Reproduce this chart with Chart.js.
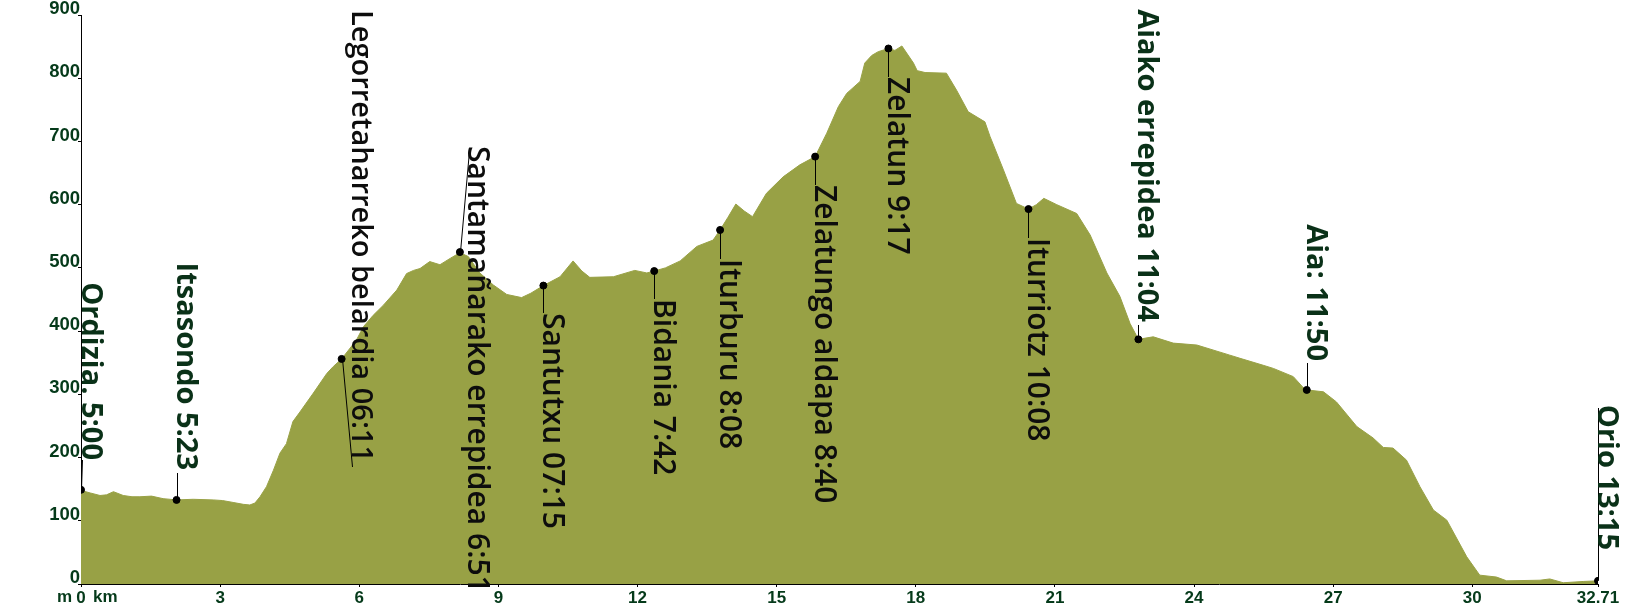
<!DOCTYPE html>
<html>
<head>
<meta charset="utf-8">
<script src="https://cdn.jsdelivr.net/npm/chart.js@4.4.1/dist/chart.umd.min.js"></script>
<style>
  html, body { margin: 0; padding: 0; background: #ffffff; }
  #wrap { width: 1638px; height: 614px; }
</style>
</head>
<body>
<div id="wrap"><canvas id="c" width="1638" height="614"></canvas></div>
<script>
// ---------- DATA ----------
const profileKm = [0.00,0.20,0.41,0.55,0.70,0.91,1.10,1.27,1.52,1.77,2.06,2.42,2.85,3.05,3.28,3.50,3.64,3.75,3.86,4.00,4.15,4.29,4.43,4.57,4.72,5.01,5.30,5.44,5.62,5.94,6.09,6.30,6.52,6.81,7.02,7.17,7.31,7.52,7.74,7.96,8.17,8.35,8.60,8.89,9.18,9.50,9.70,9.97,10.33,10.61,10.80,10.97,11.48,11.94,12.20,12.36,12.60,12.92,13.28,13.63,13.78,13.95,14.12,14.30,14.48,14.78,15.14,15.50,15.83,16.08,16.33,16.51,16.80,16.90,17.05,17.19,17.41,17.55,17.70,17.95,18.03,18.20,18.66,18.88,19.13,19.49,19.60,19.89,20.17,20.43,20.60,20.76,21.04,21.47,21.76,22.12,22.40,22.62,22.80,23.12,23.55,24.06,24.77,24.99,25.49,25.71,26.14,26.35,26.43,26.79,27.07,27.51,27.86,28.08,28.29,28.58,28.87,29.16,29.45,29.88,30.16,30.52,30.74,31.46,31.67,31.96,32.39,32.71];
const profileElev = [148,144,140,141,146,140,138,138,139,135,133,134,133,132,129,126,125,128,138,154,180,207,222,257,272,302,333,344,356,386,407,425,441,465,491,496,499,510,505,515,524,518,492,473,458,453,460,472,486,511,495,485,486,496,492,495,500,511,534,544,560,580,601,590,581,618,644,663,676,713,755,776,795,824,836,842,847,844,851,824,812,809,808,781,747,731,708,655,602,593,600,610,600,586,552,492,455,412,387,391,381,378,362,357,346,341,328,311,307,304,288,249,231,216,215,196,154,117,101,43,14,11,5,6,8,2,4,5];

const wpNames = ["Ordizia. 5:00","Itsasondo 5:23","Legorretaharreko belardia 06:11","Santamañarako errepidea 6:51","Santutxu 07:15","Bidania 7:42","Iturburu 8:08","Zelatungo aldapa 8:40","Zelatun 9:17","Iturriotz 10:08","Aiako errepidea 11:04","Aia: 11:50","Orio 13:15"];
const wpKm   = [0.00, 2.06, 5.62, 8.17, 9.97, 12.36, 13.78, 15.83, 17.41, 20.43, 22.80, 26.43, 32.71];
const wpElev = [149, 133, 356, 525, 472, 495, 560, 676, 847, 593, 387, 307, 5];

const xTickValues = [0,3,6,9,12,15,18,21,24,27,30,32.71];
const yTickValues = [0,100,200,300,400,500,600,700,800,900];
const xUnit = "km";
const yUnit = "m";

// ---------- LAYOUT / STYLE (pixels) ----------
// side: 'below' -> text starts at textY, 'above' -> text ends at textY
const labelLayout = [
  {side:'above', textY:460, dx:1,  lineX:1,  lineY:460, emph:true,  size:29},
  {side:'above', textY:470, dx:0,  lineX:0,  lineY:473, emph:true,  size:29},
  {side:'above', textY:462, dx:10, lineX:10, lineY:467, emph:false, size:29},
  {side:'below', textY:146, dx:8,  lineX:9,  lineY:151, emph:false, size:30},
  {side:'below', textY:313, dx:0,  lineX:0,  lineY:313, emph:false, size:30},
  {side:'below', textY:299, dx:0,  lineX:0,  lineY:299, emph:false, size:30},
  {side:'below', textY:259, dx:0,  lineX:0,  lineY:259, emph:false, size:30},
  {side:'below', textY:185, dx:0,  lineX:0,  lineY:185, emph:false, size:30},
  {side:'below', textY:77,  dx:0,  lineX:0,  lineY:77,  emph:false, size:30},
  {side:'below', textY:238, dx:0,  lineX:0,  lineY:238, emph:false, size:30},
  {side:'above', textY:322, dx:0,  lineX:0,  lineY:325, emph:true,  size:29},
  {side:'above', textY:361, dx:0,  lineX:0,  lineY:363, emph:true,  size:29},
  {side:'above', textY:550, dx:0,  lineX:0,  lineY:408, emph:true,  size:29}
];

const FILL = '#98a145';
const TICK_COLOR = '#053a1a';

const labelPlugin = {
  id: 'waypointLabels',
  afterDatasetsDraw(chart) {
    const {ctx} = chart;
    const x = chart.scales.x, y = chart.scales.y;
    ctx.save();
    wpNames.forEach((name, i) => {
      const L = labelLayout[i];
      const px = x.getPixelForValue(wpKm[i]);
      const py = y.getPixelForValue(wpElev[i]);
      ctx.strokeStyle = '#000';
      ctx.lineWidth = 1;
      ctx.beginPath();
      ctx.moveTo(Math.round(px) + 0.5, py);
      ctx.lineTo(Math.round(px + L.lineX) + 0.5, L.lineY);
      ctx.stroke();
      ctx.save();
      ctx.translate(Math.round(px + L.dx), L.textY);
      ctx.rotate(Math.PI / 2);
      ctx.font = (L.emph ? 'bold ' : '600 ') + L.size + 'px "Open Sans", "Noto Sans", sans-serif';
      ctx.fillStyle = L.emph ? '#0a3118' : '#0d0d0d';
      ctx.textAlign = L.side === 'below' ? 'left' : 'right';
      ctx.textBaseline = 'alphabetic';
      ctx.fillText(name, 0, 0);
      ctx.restore();
    });
    // axis units
    ctx.font = 'bold 17px "Liberation Sans", Arial, sans-serif';
    ctx.fillStyle = TICK_COLOR;
    ctx.textBaseline = 'alphabetic';
    const bx = x.getPixelForValue(0);
    ctx.textAlign = 'right';
    ctx.fillText(yUnit, bx - 9, 602);
    ctx.textAlign = 'left';
    ctx.fillText(xUnit, bx + 12, 602);
    ctx.restore();
  }
};

new Chart(document.getElementById('c'), {
  type: 'line',
  data: {
    datasets: [
      {
        data: profileKm.map((k, i) => ({x: k, y: profileElev[i]})),
        backgroundColor: FILL,
        borderColor: FILL,
        borderWidth: 1,
        fill: 'origin',
        pointRadius: 0,
        tension: 0,
        order: 2
      },
      {
        type: 'scatter',
        data: wpKm.map((k, i) => ({x: k, y: wpElev[i]})),
        backgroundColor: '#000',
        borderColor: '#000',
        pointRadius: 3.5,
        showLine: false,
        order: 1
      }
    ]
  },
  options: {
    responsive: false,
    animation: false,
    devicePixelRatio: 1,
    layout: { padding: { top: 15, right: 40, left: 0, bottom: 0 } },
    plugins: { legend: { display: false }, tooltip: { enabled: false } },
    scales: {
      x: {
        type: 'linear',
        min: 0, max: 32.71,
        afterBuildTicks: s => { s.ticks = xTickValues.map(v => ({value: v})); },
        afterFit: s => { s.height = 30; },
        grid: { drawOnChartArea: false, drawTicks: true, tickLength: 3, color: '#000' },
        border: { display: true, color: '#000', width: 1 },
        ticks: {
          autoSkip: false, maxRotation: 0, padding: 1,
          color: TICK_COLOR,
          font: { family: '"Liberation Sans", Arial, sans-serif', size: 17, weight: 'bold' },
          callback: v => String(v)
        }
      },
      y: {
        min: 0, max: 900,
        afterBuildTicks: s => { s.ticks = yTickValues.map(v => ({value: v})); },
        afterFit: s => { s.width = 81; },
        grid: { drawOnChartArea: false, drawTicks: true, tickLength: 3, color: '#000' },
        border: { display: true, color: '#000', width: 1 },
        ticks: {
          padding: -2, labelOffset: -6,
          color: TICK_COLOR,
          font: { family: '"Liberation Sans", Arial, sans-serif', size: 18.5, weight: 'bold' },
          callback: v => String(v)
        }
      }
    }
  },
  plugins: [labelPlugin]
});
</script>
</body>
</html>
